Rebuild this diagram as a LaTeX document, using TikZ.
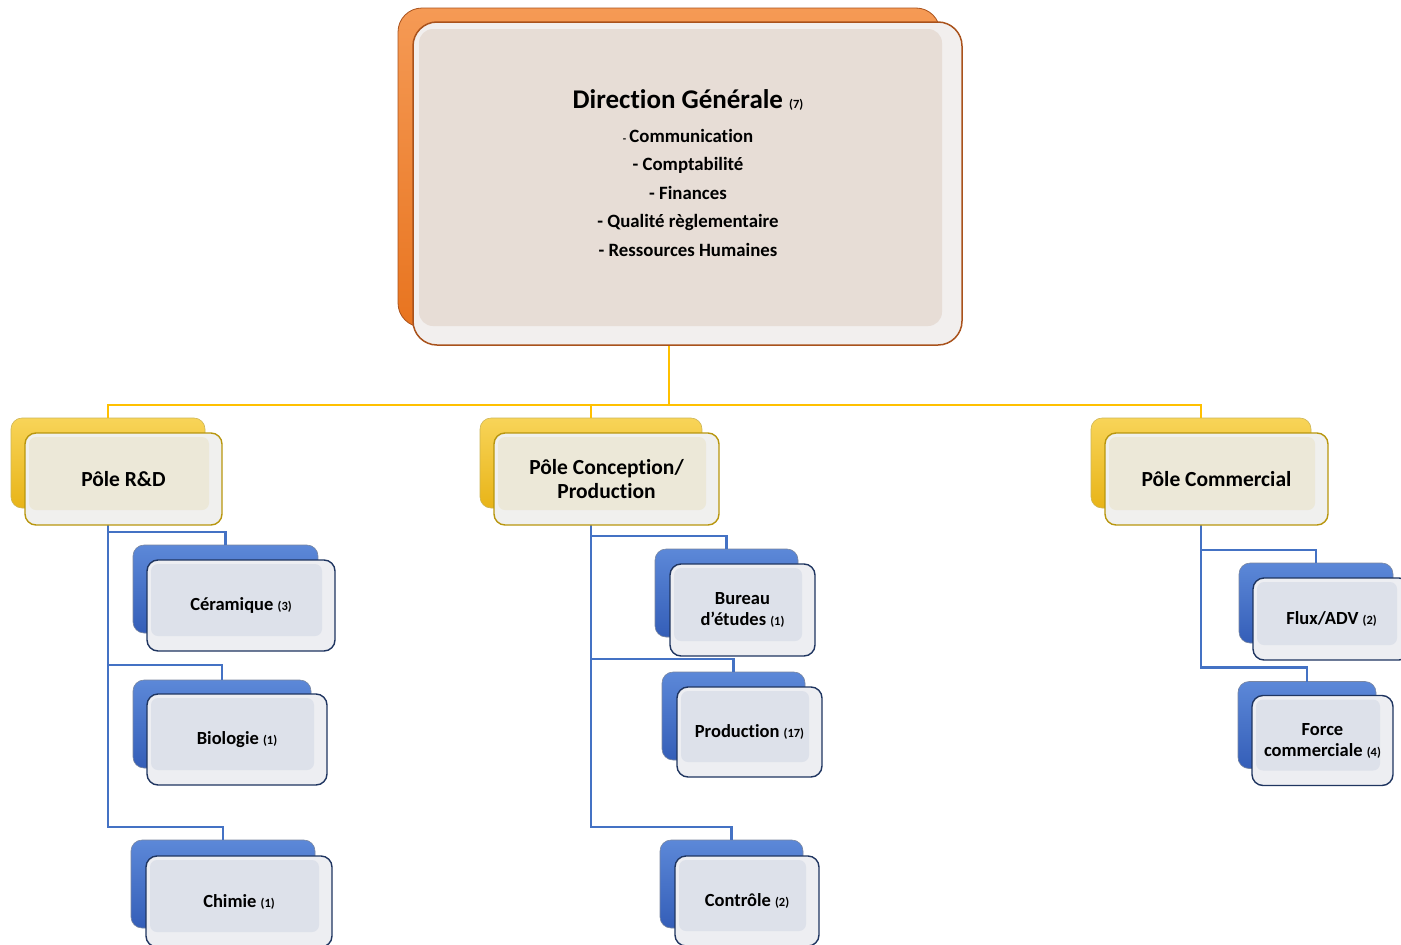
\documentclass[tikz,border=0pt]{standalone}
\usepackage{fontspec}
\setmainfont[Ligatures=NoCommon]{Carlito}
\usetikzlibrary{calc}
\definecolor{orgTop}{HTML}{F59A55}
\definecolor{orgBot}{HTML}{E8741F}
\definecolor{orgLine}{HTML}{A9521C}
\definecolor{dgFrame}{HTML}{F2EFEE}
\definecolor{dgIn}{HTML}{E7DDD6}
\definecolor{yelTop}{HTML}{F8D458}
\definecolor{yelBot}{HTML}{E8B418}
\definecolor{yelLine}{HTML}{B8960E}
\definecolor{poFrame}{HTML}{F0F0EE}
\definecolor{poIn}{HTML}{ECE8D8}
\definecolor{bluTop}{HTML}{5C88D8}
\definecolor{bluBot}{HTML}{345EB8}
\definecolor{bluLine}{HTML}{1F3560}
\definecolor{suFrame}{HTML}{EDEEF2}
\definecolor{suIn}{HTML}{DDE1EA}
\definecolor{ylink}{HTML}{FFC000}
\definecolor{blink}{HTML}{4472C4}
\begin{document}
\begin{tikzpicture}[x=1pt,y=-1pt,
  box/.style={inner sep=0pt, outer sep=0pt},
  dgback/.style={box, rounded corners=24pt, top color=orgTop, bottom color=orgBot, draw=orgLine, line width=0.8pt},
  dgfront/.style={box, rounded corners=24pt, fill=dgFrame, draw=orgLine, line width=1.5pt,
    path picture={\fill[dgIn, rounded corners=14pt] ([shift={(6pt,-7pt)}]path picture bounding box.north west) rectangle ([shift={(-20pt,19pt)}]path picture bounding box.south east);}},
  poback/.style={box, rounded corners=11pt, top color=yelTop, bottom color=yelBot, draw=yelLine!70, line width=0.6pt},
  pofront/.style={box, rounded corners=11pt, fill=poFrame, draw=yelLine, line width=1.4pt, font=\bfseries\fontsize{21.5}{24}\selectfont, align=center,
    path picture={\fill[poIn, rounded corners=7pt] ([shift={(4pt,-4pt)}]path picture bounding box.north west) rectangle ([shift={(-13pt,15pt)}]path picture bounding box.south east);}},
  suback/.style={box, rounded corners=11pt, top color=bluTop, bottom color=bluBot, draw=bluLine!60, line width=0.6pt},
  sufront/.style={box, rounded corners=11pt, fill=suFrame, draw=bluLine, line width=1.4pt, font=\bfseries\fontsize{18.5}{21}\selectfont, align=center,
    path picture={\fill[suIn, rounded corners=7pt] ([shift={(4pt,-4pt)}]path picture bounding box.north west) rectangle ([shift={(-13pt,15pt)}]path picture bounding box.south east);}},
  ylk/.style={draw=ylink, line width=2.6pt},
  blk/.style={draw=blink, line width=2.4pt},
]
\newcommand{\cnt}[1]{{\fontsize{12.5}{14}\selectfont (#1)}}
\useasboundingbox (0,0) rectangle (1401,945);

% ---- back boxes
\node[dgback, minimum width=542pt, minimum height=319pt] (dgB) at (669,167.5) {};
\node[poback, minimum width=194pt, minimum height=90pt] (rdB) at (108,463) {};
\node[poback, minimum width=222pt, minimum height=90pt] (cpB) at (591,463) {};
\node[poback, minimum width=220pt, minimum height=90pt] (cmB) at (1201,463) {};

% ---- connectors (yellow)
\draw[ylk] (dgB.south) |- ([yshift=13pt]rdB.north) -| (rdB.north);
\draw[ylk] (dgB.south) |- ([yshift=13pt]cpB.north) -| (cpB.north);
\draw[ylk] (dgB.south) |- ([yshift=13pt]cmB.north) -| (cmB.north);

% ---- sub back boxes
\node[suback, minimum width=185pt, minimum height=88pt] (ceB) at (225.5,589) {};
\node[suback, minimum width=178pt, minimum height=88pt] (biB) at (222,724) {};
\node[suback, minimum width=184pt, minimum height=88pt] (chB) at (223,884) {};
\node[suback, minimum width=143pt, minimum height=88pt] (buB) at (726.5,593) {};
\node[suback, minimum width=143pt, minimum height=88pt] (prB) at (733.5,716) {};
\node[suback, minimum width=143pt, minimum height=88pt] (coB) at (731.5,884) {};
\node[suback, minimum width=154pt, minimum height=80pt] (flB) at (1316,603) {};
\node[suback, minimum width=138pt, minimum height=87pt] (foB) at (1307,725) {};

% ---- connectors (blue)
\draw[blk] (rdB.south) |- ([yshift=13pt]ceB.north) -| (ceB.north);
\draw[blk] (rdB.south) |- ([yshift=15pt]biB.north) -| (biB.north);
\draw[blk] (rdB.south) |- ([yshift=13pt]chB.north) -| (chB.north);
\draw[blk] (cpB.south) |- ([yshift=13pt]buB.north) -| (buB.north);
\draw[blk] (cpB.south) |- ([yshift=13pt]prB.north) -| (prB.north);
\draw[blk] (cpB.south) |- ([yshift=13pt]coB.north) -| (coB.north);
\draw[blk] (cmB.south) |- ([yshift=13pt]flB.north) -| (flB.north);
\draw[blk] (cmB.south) |- ([yshift=14pt]foB.north) -| (foB.north);

% ---- front boxes
\node[dgfront, minimum width=549pt, minimum height=323pt] (dgF) at (687.5,183.5) {};
\node[box, align=center, font=\bfseries\fontsize{18.8}{28.5}\selectfont] (dgT) at (688,173)
  {{\fontsize{27}{30}\selectfont Direction Générale \fontsize{12.5}{14}\selectfont(7)}\\[5pt]
   {\fontsize{11}{12}\selectfont -}\,Communication\\
   - Comptabilité\\
   - Finances\\
   - Qualité règlementaire\\
   - Ressources Humaines};

\node[pofront, minimum width=197pt, minimum height=92pt] (rdF) at (123.5,479) {Pôle R\&D};
\node[pofront, minimum width=225pt, minimum height=92pt] (cpF) at (606.5,479) {Pôle Conception/\\Production};
\node[pofront, minimum width=223pt, minimum height=92pt] (cmF) at (1216.5,479) {Pôle Commercial};

\node[sufront, minimum width=188pt, minimum height=91pt] (ceF) at (241,605.5) {Céramique \cnt{3}};
\node[sufront, minimum width=180pt, minimum height=91pt] (biF) at (237,739.5) {Biologie \cnt{1}};
\node[sufront, minimum width=186pt, minimum height=91pt] (chF) at (239,901.5) {Chimie \cnt{1}};
\node[sufront, minimum width=145pt, minimum height=92pt] (buF) at (742.5,610) {Bureau\\d'études \cnt{1}};
\node[sufront, minimum width=145pt, minimum height=90pt] (prF) at (749.5,732) {Production \cnt{17}};
\node[sufront, minimum width=144pt, minimum height=90pt] (coF) at (747,901) {Contrôle \cnt{2}};
\node[sufront, minimum width=157pt, minimum height=82pt] (flF) at (1331.5,619) {Flux/ADV \cnt{2}};
\node[sufront, minimum width=141pt, minimum height=90pt] (foF) at (1322.5,740.5) {Force\\commerciale \cnt{4}};
\end{tikzpicture}
\end{document}
